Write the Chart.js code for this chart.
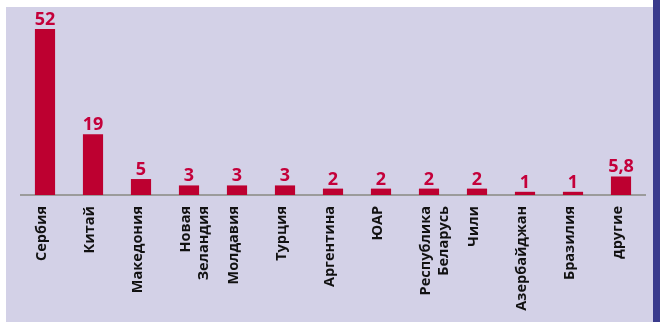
<!DOCTYPE html>
<html>
<head>
<meta charset="utf-8">
<script src="https://cdn.jsdelivr.net/npm/chart.js@4/dist/chart.umd.min.js"></script>
<style>
  html, body { margin: 0; padding: 0; background: #ffffff; }
  #wrap { position: relative; width: 660px; height: 322px; overflow: hidden; }
  #panel { position: absolute; left: 6px; top: 7px; width: 647px; height: 315px; background: #d3d1e7; }
  #strip { position: absolute; left: 653px; top: 0; width: 7px; height: 322px; background: #393a8c; }
  #c { position: absolute; left: 0; top: 0; }
</style>
</head>
<body>
<div id="wrap">
  <div id="panel"></div>
  <div id="strip"></div>
  <canvas id="c" width="660" height="322"></canvas>
</div>
<script>
const categories = [
  "Сербия", "Китай", "Македония", ["Новая", "Зеландия"], "Молдавия", "Турция",
  "Аргентина", "ЮАР", ["Республика", "Беларусь"], "Чили", "Азербайджан", "Бразилия", "другие"
];
const values = [52, 19, 5, 3, 3, 3, 2, 2, 2, 2, 1, 1, 5.8];

const barColor = "#bd0030";
const labelColor = "#c4003a";

const valueLabels = {
  id: "valueLabels",
  afterDatasetsDraw(chart) {
    const ctx = chart.ctx;
    const meta = chart.getDatasetMeta(0);
    ctx.save();
    ctx.font = "bold 18px 'Open Sans'";
    ctx.fillStyle = labelColor;
    ctx.textAlign = "center";
    ctx.textBaseline = "alphabetic";
    meta.data.forEach((bar, i) => {
      const txt = String(values[i]).replace(".", ",");
      ctx.fillText(txt, bar.x, bar.y - 4);
    });
    ctx.restore();
  }
};

new Chart(document.getElementById("c"), {
  type: "bar",
  data: {
    labels: categories,
    datasets: [{
      data: values,
      backgroundColor: barColor,
      borderWidth: 0,
      barPercentage: 0.42,
      categoryPercentage: 1.0
    }]
  },
  options: {
    responsive: false,
    animation: false,
    events: [],
    layout: { padding: { left: 21, right: 15, top: 29, bottom: 0 } },
    plugins: { legend: { display: false }, tooltip: { enabled: false } },
    scales: {
      y: { display: false, min: 0, max: 52 },
      x: {
        grid: { display: false, drawTicks: false },
        border: { display: true, color: "#9b9b9b", width: 2 },
        ticks: {
          autoSkip: false,
          minRotation: 90,
          maxRotation: 90,
          padding: 11,
          labelOffset: -3,
          color: "#111111",
          font: { family: "'Open Sans'", weight: "bold", size: 14.5 }
        },
        afterFit(scale) { scale.height = 127; }
      }
    }
  },
  plugins: [valueLabels]
});
</script>
</body>
</html>
